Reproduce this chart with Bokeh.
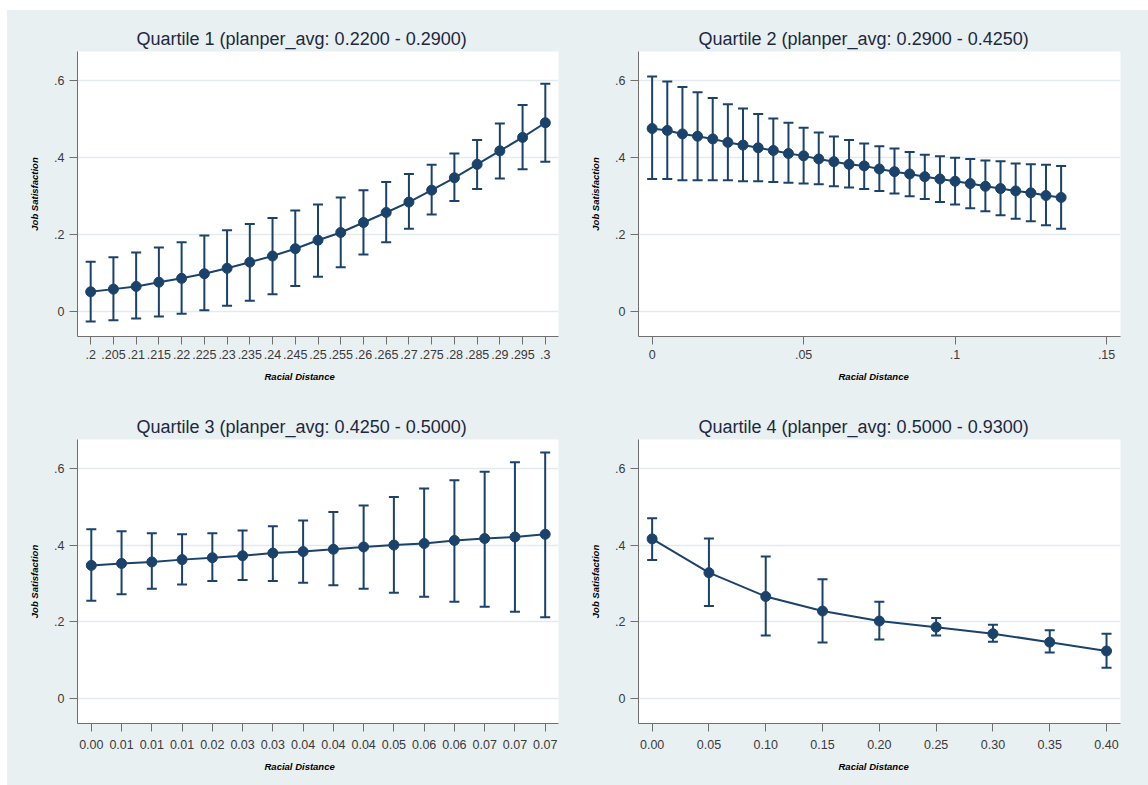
from bokeh.plotting import figure
from bokeh.layouts import column, row
from bokeh.models import Range1d, FixedTicker, Whisker, TeeHead, ColumnDataSource, Title
from bokeh.embed import file_html
from bokeh.resources import INLINE

# ---------------- data ----------------
titles = [
    "Quartile 1 (planper_avg: 0.2200 - 0.2900)",
    "Quartile 2 (planper_avg: 0.2900 - 0.4250)",
    "Quartile 3 (planper_avg: 0.4250 - 0.5000)",
    "Quartile 4 (planper_avg: 0.5000 - 0.9300)",
]
x_title = "Racial Distance"
y_title = "Job Satisfaction"

y_ticks = [0.0, 0.2, 0.4, 0.6]
y_tick_labels = ["0", ".2", ".4", ".6"]

# Quartile 1
q1_x = [0.200, 0.205, 0.210, 0.215, 0.220, 0.225, 0.230, 0.235, 0.240, 0.245, 0.250,
        0.255, 0.260, 0.265, 0.270, 0.275, 0.280, 0.285, 0.290, 0.295, 0.300]
q1_tick_labels = [".2", ".205", ".21", ".215", ".22", ".225", ".23", ".235", ".24", ".245", ".25",
                  ".255", ".26", ".265", ".27", ".275", ".28", ".285", ".29", ".295", ".3"]
q1_y = [0.051, 0.058, 0.065, 0.076, 0.086, 0.098, 0.112, 0.128, 0.144, 0.163, 0.185,
        0.205, 0.231, 0.257, 0.284, 0.315, 0.347, 0.382, 0.417, 0.452, 0.490]
q1_hi = [0.129, 0.141, 0.153, 0.166, 0.180, 0.197, 0.211, 0.227, 0.243, 0.262, 0.278,
         0.296, 0.315, 0.336, 0.357, 0.381, 0.410, 0.445, 0.488, 0.536, 0.591]
q1_lo = [-0.026, -0.023, -0.018, -0.013, -0.006, 0.003, 0.015, 0.028, 0.045, 0.066, 0.090,
         0.115, 0.148, 0.180, 0.215, 0.252, 0.287, 0.318, 0.345, 0.369, 0.389]

# Quartile 2
q2_x = [0.000, 0.005, 0.010, 0.015, 0.020, 0.025, 0.030, 0.035, 0.040, 0.045, 0.050,
        0.055, 0.060, 0.065, 0.070, 0.075, 0.080, 0.085, 0.090, 0.095, 0.100,
        0.105, 0.110, 0.115, 0.120, 0.125, 0.130, 0.135]
q2_ticks = [0.0, 0.05, 0.1, 0.15]
q2_tick_labels = ["0", ".05", ".1", ".15"]
q2_y = [0.475, 0.470, 0.461, 0.455, 0.448, 0.439, 0.432, 0.425, 0.418, 0.410, 0.404,
        0.396, 0.389, 0.382, 0.378, 0.370, 0.363, 0.357, 0.350, 0.344, 0.338,
        0.332, 0.325, 0.319, 0.313, 0.308, 0.301, 0.296]
q2_hi = [0.610, 0.597, 0.583, 0.569, 0.554, 0.538, 0.527, 0.513, 0.501, 0.490, 0.477,
         0.465, 0.454, 0.445, 0.436, 0.429, 0.423, 0.414, 0.407, 0.403, 0.399,
         0.396, 0.392, 0.390, 0.384, 0.382, 0.381, 0.378]
q2_lo = [0.344, 0.344, 0.341, 0.341, 0.341, 0.341, 0.338, 0.338, 0.336, 0.334, 0.332,
         0.330, 0.325, 0.322, 0.318, 0.313, 0.306, 0.299, 0.292, 0.284, 0.278,
         0.268, 0.260, 0.250, 0.241, 0.234, 0.224, 0.215]

# Quartile 3
q3_x = [0.000, 0.005, 0.010, 0.015, 0.020, 0.025, 0.030, 0.035, 0.040, 0.045, 0.050,
        0.055, 0.060, 0.065, 0.070, 0.075]
q3_tick_labels = ["0.00", "0.01", "0.01", "0.01", "0.02", "0.03", "0.03", "0.04", "0.04", "0.04",
                  "0.05", "0.06", "0.06", "0.07", "0.07", "0.07"]
q3_y = [0.347, 0.352, 0.356, 0.362, 0.367, 0.372, 0.379, 0.383, 0.389, 0.395, 0.400,
        0.404, 0.412, 0.417, 0.421, 0.428]
q3_hi = [0.441, 0.436, 0.431, 0.428, 0.431, 0.438, 0.449, 0.464, 0.486, 0.503, 0.525,
         0.547, 0.569, 0.591, 0.616, 0.641]
q3_lo = [0.255, 0.272, 0.286, 0.297, 0.306, 0.309, 0.306, 0.302, 0.295, 0.286, 0.276,
         0.265, 0.252, 0.239, 0.226, 0.212]

# Quartile 4
q4_x = [0.00, 0.05, 0.10, 0.15, 0.20, 0.25, 0.30, 0.35, 0.40]
q4_tick_labels = ["0.00", "0.05", "0.10", "0.15", "0.20", "0.25", "0.30", "0.35", "0.40"]
q4_y = [0.416, 0.328, 0.266, 0.228, 0.202, 0.186, 0.169, 0.147, 0.124]
q4_hi = [0.470, 0.417, 0.370, 0.311, 0.252, 0.210, 0.192, 0.178, 0.169]
q4_lo = [0.361, 0.241, 0.164, 0.146, 0.154, 0.164, 0.148, 0.120, 0.080]

# ---------------- style ----------------
NAVY = "#1a426b"
BG = "#e9f0f2"
GRID = "#e2eaed"
AXIS = "#6f6f6f"
FONT = "Liberation Sans"


def panel(title, xs, ys, lo, hi, ticks, tick_labels, xr, width, height,
          bl, br, bt, bb, title_offset, xlab_offset, tick_standoff, xlab_standoff):
    p = figure(width=width, height=height, x_range=Range1d(*xr),
               y_range=Range1d(-0.065, 0.675), output_backend="svg",
               toolbar_location=None, min_border_left=bl, min_border_right=br,
               min_border_top=bt, min_border_bottom=bb)
    p.background_fill_color = "white"
    p.border_fill_color = BG
    p.outline_line_color = None

    p.title.text = title
    p.title.align = "left"
    p.title.offset = title_offset
    p.title.text_font = FONT
    p.title.text_font_size = "18px"
    p.title.text_font_style = "normal"
    p.title.text_color = "#1c2840"
    p.title.standoff = 5

    p.xgrid.grid_line_color = None
    p.ygrid.grid_line_color = GRID
    p.ygrid.grid_line_width = 1.5
    p.yaxis.ticker = FixedTicker(ticks=y_ticks)
    p.yaxis.major_label_overrides = dict(zip(y_ticks, y_tick_labels))
    p.xaxis.ticker = FixedTicker(ticks=ticks)
    p.xaxis.major_label_overrides = dict(zip(ticks, tick_labels))

    for ax in (p.xaxis[0], p.yaxis[0]):
        ax.axis_line_color = AXIS
        ax.major_tick_line_color = AXIS
        ax.minor_tick_line_color = None
        ax.major_tick_in = 0
        ax.major_tick_out = 8
        ax.major_label_text_font = FONT
        ax.major_label_text_font_size = "12.5px"
        ax.major_label_text_color = "#3a3a3a"
    p.xaxis.major_label_standoff = tick_standoff
    p.yaxis.major_label_standoff = 5

    p.yaxis.axis_label = y_title
    p.yaxis.axis_label_text_font = FONT
    p.yaxis.axis_label_text_font_size = "9.5px"
    p.yaxis.axis_label_text_font_style = "bold italic"
    p.yaxis.axis_label_text_color = "black"
    p.yaxis.axis_label_standoff = 11

    p.add_layout(Title(text=x_title, align="left", offset=xlab_offset,
                       text_font=FONT, text_font_size="9.5px",
                       text_font_style="bold italic", text_color="black",
                       standoff=xlab_standoff), "below")

    src = ColumnDataSource(dict(x=xs, y=ys, lo=lo, hi=hi))
    p.add_layout(Whisker(base="x", upper="hi", lower="lo", source=src,
                         line_color=NAVY, line_width=2,
                         upper_head=TeeHead(size=10, line_color=NAVY, line_width=2),
                         lower_head=TeeHead(size=10, line_color=NAVY, line_width=2)))
    p.line("x", "y", source=src, line_color=NAVY, line_width=2)
    p.scatter("x", "y", source=src, size=10, fill_color=NAVY, line_color=NAVY)
    return p


p1 = panel(titles[0], q1_x, q1_y, q1_lo, q1_hi, q1_x, q1_tick_labels,
           (0.1971, 0.3029), 570, 387, 70, 19, 41, 61, 59, 187, 5, 14)
p2 = panel(titles[1], q2_x, q2_y, q2_lo, q2_hi, q2_ticks, q2_tick_labels,
           (-0.0045, 0.1546), 571, 387, 61, 28, 41, 61, 60, 200, 5, 14)
p3 = panel(titles[2], q3_x, q3_y, q3_lo, q3_hi, q3_x, q3_tick_labels,
           (-0.00228, 0.0772), 570, 388, 70, 19, 42, 62, 59, 187, 8, 15)
p4 = panel(titles[3], q4_x, q4_y, q4_lo, q4_hi, q4_x, q4_tick_labels,
           (-0.012, 0.4123), 571, 388, 61, 28, 42, 62, 60, 200, 8, 15)

layout = column(row(p1, p2, spacing=0, styles={"background-color": BG}),
                row(p3, p4, spacing=0, styles={"background-color": BG}),
                spacing=0, margin=(10, 0, 0, 7), styles={"background-color": BG})

open("out.html", "w").write(file_html(layout, INLINE))
